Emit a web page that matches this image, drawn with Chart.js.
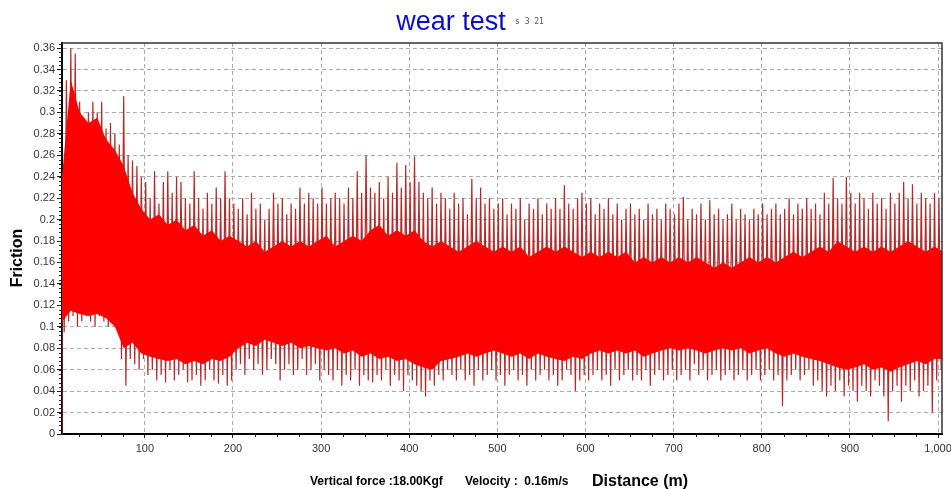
<!DOCTYPE html>
<html>
<head>
<meta charset="utf-8">
<title>wear test</title>
<script src="https://cdn.jsdelivr.net/npm/chart.js@4.4.0/dist/chart.umd.min.js"></script>
<style>
  html, body { margin: 0; padding: 0; background: #fff; }
</style>
</head>
<body>
<canvas id="frictionChart" width="951" height="489"></canvas>
<script>
// Friction trace: spike tops / bottoms every 5 m,
// and the solid red core every 10 m.
const peakStart = 6;   // m, first sample
const peakStep = 5;    // m between samples
const signalStart = 0; // trace starts from zero at the left edge

const peakHigh = [
    0.24, 0.33, 0.36, 0.355, 0.31, 0.29, 0.30, 0.31, 0.30, 0.31,
    0.285, 0.29, 0.28, 0.27, 0.315, 0.26, 0.255, 0.25, 0.24, 0.235,
    0.22, 0.245, 0.215, 0.235, 0.245, 0.225, 0.24, 0.235, 0.22, 0.215,
    0.245, 0.22, 0.21, 0.225, 0.215, 0.23, 0.22, 0.245, 0.22, 0.215,
    0.21, 0.22, 0.205, 0.225, 0.21, 0.215, 0.2, 0.21, 0.225, 0.215,
    0.22, 0.205, 0.215, 0.21, 0.23, 0.215, 0.225, 0.22, 0.215, 0.23,
    0.215, 0.22, 0.225, 0.22, 0.215, 0.23, 0.22, 0.245, 0.225, 0.26,
    0.23, 0.225, 0.235, 0.22, 0.24, 0.225, 0.253, 0.23, 0.251, 0.235,
    0.259, 0.235, 0.225, 0.22, 0.23, 0.215, 0.225, 0.22, 0.21, 0.225,
    0.215, 0.22, 0.205, 0.238, 0.22, 0.23, 0.215, 0.22, 0.21, 0.215,
    0.22, 0.205, 0.215, 0.21, 0.22, 0.2, 0.215, 0.21, 0.22, 0.205,
    0.215, 0.21, 0.22, 0.21, 0.232, 0.215, 0.21, 0.22, 0.225, 0.215,
    0.22, 0.205, 0.215, 0.21, 0.22, 0.205, 0.215, 0.2, 0.21, 0.215,
    0.205, 0.21, 0.2, 0.215, 0.205, 0.21, 0.2, 0.215, 0.21, 0.205,
    0.215, 0.221, 0.2, 0.21, 0.205, 0.215, 0.2, 0.218, 0.205, 0.21,
    0.2, 0.205, 0.215, 0.2, 0.21, 0.205, 0.2, 0.21, 0.205, 0.215,
    0.205, 0.21, 0.215, 0.205, 0.21, 0.22, 0.205, 0.215, 0.21, 0.22,
    0.21, 0.215, 0.205, 0.225, 0.215, 0.239, 0.22, 0.215, 0.24, 0.225,
    0.215, 0.225, 0.22, 0.21, 0.225, 0.215, 0.22, 0.21, 0.225, 0.215,
    0.225, 0.235, 0.22, 0.233, 0.215, 0.225, 0.22, 0.215, 0.225, 0.22
];

const peakLow = [
    0.095, 0.105, 0.11, 0.1, 0.105, 0.11, 0.105, 0.1, 0.11, 0.105,
    0.1, 0.11, 0.1, 0.07, 0.045, 0.07, 0.065, 0.06, 0.07, 0.055,
    0.06, 0.05, 0.055, 0.048, 0.06, 0.05, 0.055, 0.06, 0.048, 0.05,
    0.055, 0.045, 0.05, 0.06, 0.05, 0.047, 0.055, 0.045, 0.05, 0.06,
    0.065, 0.055, 0.07, 0.06, 0.065, 0.055, 0.06, 0.07, 0.065, 0.05,
    0.06, 0.065, 0.055, 0.06, 0.07, 0.055, 0.06, 0.065, 0.05, 0.06,
    0.055, 0.05, 0.06, 0.045, 0.055, 0.05, 0.06, 0.045, 0.055, 0.05,
    0.048, 0.055, 0.05, 0.06, 0.045, 0.055, 0.05, 0.04, 0.055, 0.05,
    0.045, 0.04, 0.035, 0.05, 0.045, 0.055, 0.05, 0.06, 0.055, 0.05,
    0.06, 0.05, 0.055, 0.045, 0.06, 0.05, 0.055, 0.06, 0.05, 0.055,
    0.045, 0.055, 0.06, 0.05, 0.055, 0.045, 0.06, 0.05, 0.055, 0.06,
    0.05, 0.055, 0.045, 0.05, 0.06, 0.055, 0.04, 0.05, 0.055, 0.05,
    0.055, 0.06, 0.05, 0.055, 0.045, 0.06, 0.05, 0.055, 0.06, 0.05,
    0.055, 0.05, 0.06, 0.045, 0.055, 0.06, 0.05, 0.055, 0.06, 0.05,
    0.055, 0.06, 0.05, 0.065, 0.055, 0.06, 0.05, 0.055, 0.06, 0.05,
    0.055, 0.06, 0.05, 0.055, 0.06, 0.05, 0.055, 0.06, 0.05, 0.055,
    0.06, 0.05, 0.055, 0.026, 0.05, 0.055, 0.06, 0.05, 0.055, 0.06,
    0.045, 0.05, 0.04, 0.035, 0.045, 0.04, 0.05, 0.035, 0.045, 0.04,
    0.03, 0.045, 0.04, 0.035, 0.05, 0.045, 0.035, 0.012, 0.04, 0.045,
    0.03, 0.045, 0.04, 0.05, 0.035, 0.04, 0.045, 0.02, 0.05, 0.06
];

const coreStart = 6;
const coreStep = 10;
const coreHigh = [
    0.24, 0.33, 0.30, 0.29, 0.295, 0.275, 0.265, 0.25, 0.225, 0.21,
    0.2, 0.205, 0.195, 0.2, 0.19, 0.195, 0.185, 0.19, 0.18, 0.185,
    0.18, 0.175, 0.18, 0.17, 0.175, 0.18, 0.175, 0.18, 0.175, 0.18,
    0.185, 0.175, 0.18, 0.185, 0.18, 0.19, 0.195, 0.185, 0.19, 0.185,
    0.19, 0.18, 0.175, 0.18, 0.175, 0.17, 0.175, 0.18, 0.175, 0.17,
    0.175, 0.17, 0.175, 0.165, 0.17, 0.175, 0.17, 0.175, 0.17, 0.165,
    0.17, 0.165, 0.17, 0.165, 0.17, 0.16, 0.165, 0.16, 0.165, 0.16,
    0.165, 0.16, 0.165, 0.16, 0.155, 0.16, 0.155, 0.16, 0.165, 0.16,
    0.165, 0.16, 0.165, 0.17, 0.165, 0.17, 0.175, 0.17, 0.18, 0.175,
    0.17, 0.175, 0.17, 0.175, 0.17, 0.175, 0.18, 0.175, 0.17, 0.175,
    0.17
];
const coreLow = [
    0.105, 0.115, 0.112, 0.11, 0.112, 0.108, 0.1, 0.08, 0.085, 0.075,
    0.072, 0.07, 0.068, 0.07, 0.065, 0.068, 0.065, 0.07, 0.068, 0.072,
    0.08, 0.085, 0.082, 0.088, 0.085, 0.082, 0.085, 0.08, 0.082, 0.08,
    0.078, 0.08, 0.075, 0.078, 0.072, 0.075, 0.07, 0.072, 0.068, 0.07,
    0.065, 0.062, 0.06, 0.068, 0.07, 0.072, 0.075, 0.072, 0.075, 0.078,
    0.075, 0.072, 0.075, 0.07, 0.075, 0.072, 0.07, 0.068, 0.072, 0.07,
    0.075, 0.078, 0.075, 0.078, 0.075, 0.078, 0.072, 0.075, 0.078, 0.08,
    0.078, 0.08, 0.078, 0.075, 0.078, 0.08, 0.078, 0.08, 0.075, 0.078,
    0.08, 0.075, 0.072, 0.075, 0.072, 0.07, 0.068, 0.065, 0.062, 0.06,
    0.062, 0.065, 0.06, 0.062, 0.058, 0.062, 0.065, 0.068, 0.065, 0.07,
    0.07
];

const xTickValues = [100, 200, 300, 400, 500, 600, 700, 800, 900, 1000];
const xMin = 6, xMax = 1004.5;
const yMin = 0, yMax = 0.3647, yStep = 0.02;

// zigzag between spike tops and bottoms
const trace = [{ x: peakStart, y: signalStart }];
peakHigh.forEach((v, i) => {
    const d = peakStart + i * peakStep;
    trace.push({ x: d, y: v });
    trace.push({ x: d + peakStep / 2, y: peakLow[i] });
});
const coreTop = coreHigh.map((v, i) => ({ x: coreStart + i * coreStep, y: v }));
const coreBottom = coreLow.map((v, i) => ({ x: coreStart + i * coreStep, y: v }));

const FONT = '"Liberation Sans", Arial, sans-serif';

// title, axis captions, minor ticks and frame
const decorations = {
    id: 'decorations',
    afterDraw(chart) {
        const ctx = chart.ctx;
        const area = chart.chartArea;
        const xs = chart.scales.x;
        const ys = chart.scales.y;
        ctx.save();

        // frame top / right
        ctx.strokeStyle = '#333';
        ctx.lineWidth = 1.5;
        ctx.beginPath();
        ctx.moveTo(area.left, area.top);
        ctx.lineTo(area.right, area.top);
        ctx.lineTo(area.right, area.bottom);
        ctx.stroke();

        // minor ticks
        ctx.strokeStyle = '#222';
        ctx.lineWidth = 1;
        ctx.beginPath();
        for (let v = 0.004; v < yMax; v += 0.004) {
            const y = Math.round(ys.getPixelForValue(v)) + 0.5;
            ctx.moveTo(area.left - 3, y);
            ctx.lineTo(area.left, y);
        }
        for (let d = 25; d < xMax; d += 25) {
            if (d % 100 === 0) continue;
            const x = Math.round(xs.getPixelForValue(d)) + 0.5;
            ctx.moveTo(x, area.bottom);
            ctx.lineTo(x, area.bottom + 3);
        }
        ctx.stroke();

        // title
        ctx.fillStyle = '#0c0cc6';
        ctx.font = '27px ' + FONT;
        ctx.textAlign = 'center';
        ctx.textBaseline = 'alphabetic';
        ctx.fillText('wear test', 451, 30);
        ctx.fillStyle = '#555';
        ctx.font = '8px "DejaVu Sans Mono", monospace';
        ctx.textAlign = 'left';
        ctx.fillText('s 3 21', 515, 24);

        // y title
        ctx.save();
        ctx.translate(18, 258);
        ctx.rotate(-Math.PI / 2);
        ctx.fillStyle = '#000';
        ctx.font = 'bold 16px ' + FONT;
        ctx.textAlign = 'center';
        ctx.textBaseline = 'middle';
        ctx.fillText('Friction', 0, 0);
        ctx.restore();

        // x caption
        ctx.fillStyle = '#000';
        ctx.textAlign = 'left';
        ctx.textBaseline = 'alphabetic';
        ctx.font = 'bold 12px ' + FONT;
        ctx.fillText('Vertical force :18.00Kgf', 310, 485);
        ctx.fillText('Velocity :  0.16m/s', 465, 485);
        ctx.font = 'bold 16px ' + FONT;
        ctx.fillText('Distance (m)', 592, 486);

        ctx.restore();
    }
};

new Chart(document.getElementById('frictionChart'), {
    type: 'line',
    data: {
        datasets: [
            {
                label: 'core top',
                data: coreTop,
                borderWidth: 0,
                borderColor: '#ff0000',
                backgroundColor: '#ff0000',
                pointRadius: 0,
                fill: 1,
                order: 0
            },
            {
                label: 'core bottom',
                data: coreBottom,
                borderWidth: 0,
                borderColor: '#ff0000',
                pointRadius: 0,
                fill: false,
                order: 1
            },
            {
                label: 'Friction',
                data: trace,
                borderColor: '#b32a2a',
                borderWidth: 1.2,
                pointRadius: 0,
                fill: false,
                tension: 0,
                order: 2
            }
        ]
    },
    options: {
        responsive: false,
        animation: false,
        events: [],
        layout: { padding: { top: 43, right: 9, bottom: 0, left: 0 } },
        plugins: {
            legend: { display: false },
            tooltip: { enabled: false },
            title: { display: false }
        },
        scales: {
            x: {
                type: 'linear',
                min: xMin,
                max: xMax,
                afterBuildTicks(scale) {
                    scale.ticks = xTickValues.map(v => ({ value: v }));
                },
                afterFit(scale) {
                    scale.height = 55;
                    scale.paddingLeft = 0;
                    scale.paddingRight = 0;
                },
                ticks: {
                    color: '#333',
                    font: { family: FONT, size: 11 },
                    padding: 4,
                    maxRotation: 0,
                    autoSkip: false,
                    callback: v => v.toLocaleString('en-US')
                },
                grid: {
                    color: '#aaaaaa',
                    tickColor: '#222',
                    tickLength: 4,
                    lineWidth: 1
                },
                border: { color: '#000', width: 2, dash: [4, 3] }
            },
            y: {
                type: 'linear',
                min: yMin,
                max: yMax,
                afterBuildTicks(scale) {
                    const t = [];
                    for (let i = 0; i <= 18; i++) t.push({ value: i * yStep });
                    scale.ticks = t;
                },
                afterFit(scale) {
                    scale.width = 62;
                    scale.paddingTop = 0;
                    scale.paddingBottom = 0;
                },
                ticks: {
                    color: '#333',
                    font: { family: FONT, size: 11 },
                    padding: 2,
                    autoSkip: false,
                    callback: v => String(Math.round(v * 100) / 100)
                },
                grid: {
                    color: '#aaaaaa',
                    tickColor: '#222',
                    tickLength: 5,
                    lineWidth: 1
                },
                border: { color: '#000', width: 2, dash: [4, 3] }
            }
        }
    },
    plugins: [decorations]
});
</script>
</body>
</html>
